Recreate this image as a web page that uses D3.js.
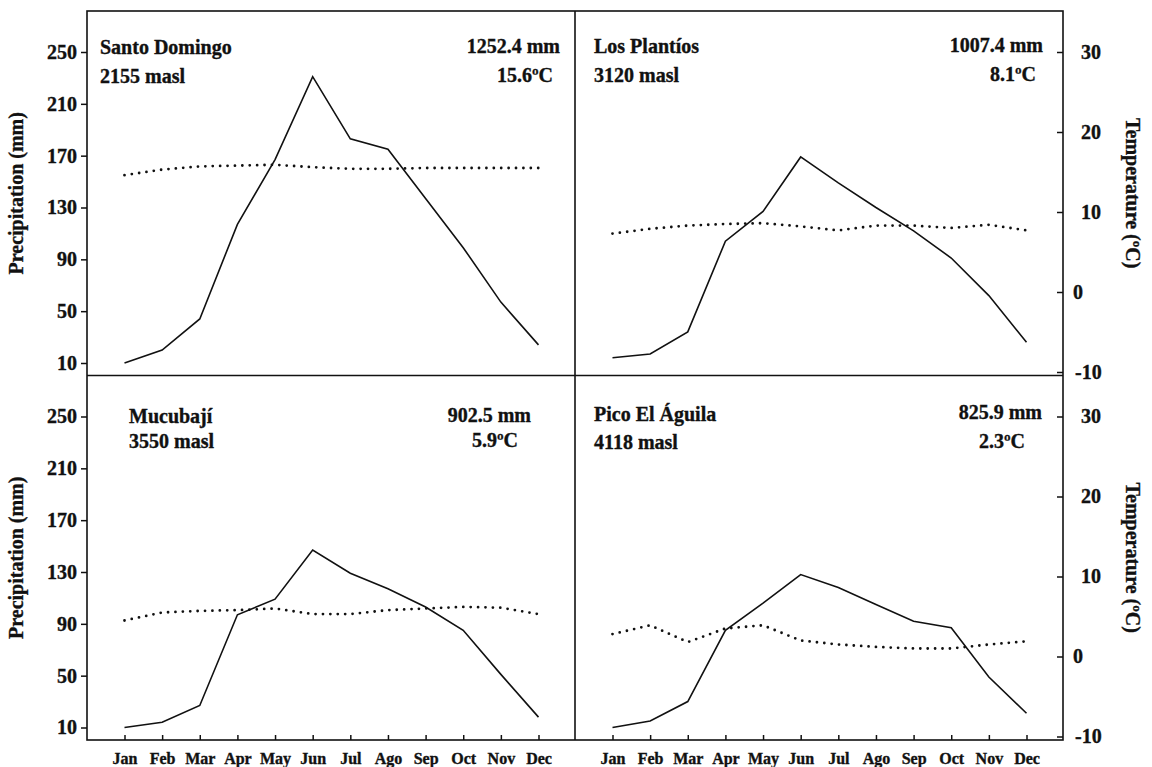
<!DOCTYPE html>
<html>
<head>
<meta charset="utf-8">
<script src="https://cdn.jsdelivr.net/npm/d3@7"></script>
<style>
  body { margin: 0; background: #fff; }
  svg { display: block; font-family: "Liberation Serif", "Times New Roman", serif; font-weight: bold; }
  svg text { stroke: #111; stroke-width: 0.35px; }
</style>
</head>
<body>
<div id="chart"></div>
<script>
const months = ["Jan", "Feb", "Mar", "Apr", "May", "Jun", "Jul", "Ago", "Sep", "Oct", "Nov", "Dec"];
const stations = ["Santo Domingo", "Los Plantíos", "Mucubají", "Pico El Águila"];
const elevations = ["2155 masl", "3120 masl", "3550 masl", "4118 masl"];
const totals = ["1252.4 mm", "1007.4 mm", "902.5 mm", "825.9 mm"];
const meanTemps = ["15.6ºC", "8.1ºC", "5.9ºC", "2.3ºC"];

// monthly precipitation (mm)
const precipSD = [10, 20, 44, 117, 167, 231, 183, 175, 137, 99, 57, 24];
const precipLP = [14, 17, 34, 104, 127, 169, 149, 130, 112, 91, 62, 26];
const precipMU = [10, 14, 27, 97, 109, 147, 129, 117, 103, 85, 51, 18];
const precipPA = [10, 15, 30, 85, 106, 128, 118, 105, 92, 87, 49, 21];

// monthly mean temperature (ºC)
const tempSD = [14.6, 15.3, 15.7, 15.8, 15.9, 15.6, 15.4, 15.4, 15.5, 15.5, 15.5, 15.5];
const tempLP = [7.3, 7.9, 8.3, 8.5, 8.6, 8.2, 7.7, 8.3, 8.3, 8.0, 8.4, 7.7];
const tempMU = [4.5, 5.5, 5.7, 5.8, 6.0, 5.3, 5.3, 5.8, 6.0, 6.2, 6.1, 5.3];
const tempPA = [2.8, 3.9, 1.8, 3.5, 3.9, 2.0, 1.5, 1.2, 1.0, 1.0, 1.5, 1.9];

const precipTicks = [10, 50, 90, 130, 170, 210, 250];
const tempTicks = [-10, 0, 10, 20, 30];

const precipAll = [precipSD, precipLP, precipMU, precipPA];
const tempAll = [tempSD, tempLP, tempMU, tempPA];

const width = 1152, height = 767;
const x0 = 87, x1 = 1063, y0 = 11, y1 = 740;
const colW = (x1 - x0) / 2, rowH = (y1 - y0) / 2;

// where the station texts sit in each panel
const labelPos = [
  { nx: 100, ny: 54, ey: 83, tx: 560, ty: 53, my: 82, mx: 553 },
  { nx: 594, ny: 53, ey: 82, tx: 1043, ty: 52, my: 81, mx: 1036 },
  { nx: 129, ny: 423, ey: 448, tx: 531, ty: 422, my: 447, mx: 518 },
  { nx: 594, ny: 421, ey: 449, tx: 1042, ty: 419, my: 448, mx: 1025 }
];

const svg = d3.select("#chart").append("svg")
    .attr("width", width)
    .attr("height", height);

svg.append("rect").attr("width", width).attr("height", height).attr("fill", "#fff");

function styleAxis(ax, size) {
    ax.attr("font-family", null).attr("font-size", null);
    ax.select(".domain").remove();
    ax.selectAll("line").attr("stroke", "#111").attr("stroke-width", 1.5);
    ax.selectAll("text").attr("font-size", size).attr("fill", "#111");
}

stations.forEach((name, i) => {
    const col = i % 2, row = Math.floor(i / 2);
    const left = x0 + col * colW;
    const top = y0 + row * rowH;

    const x = d3.scalePoint().domain(months).range([left + 37.5, left + 451.5]);
    const yP = d3.scaleLinear().domain([10, 250]).range([top + 352, top + 41]);
    const yT = d3.scaleLinear().domain([-10, 30]).range([top + 361, top + 41]);

    const g = svg.append("g");

    g.append("path")
        .datum(precipAll[i])
        .attr("fill", "none")
        .attr("stroke", "#111")
        .attr("stroke-width", 1.6)
        .attr("d", d3.line().x((d, j) => x(months[j])).y(d => yP(d)));

    g.append("path")
        .datum(tempAll[i])
        .attr("fill", "none")
        .attr("stroke", "#111")
        .attr("stroke-width", 2.8)
        .attr("stroke-linecap", "round")
        .attr("stroke-dasharray", "0 7.4")
        .attr("d", d3.line().x((d, j) => x(months[j])).y(d => yT(d)));

    if (col === 0) {
        const ax = g.append("g")
            .attr("transform", `translate(${x0},0)`)
            .call(d3.axisLeft(yP).tickValues(precipTicks).tickSize(6).tickPadding(4).tickFormat(d => String(d)));
        styleAxis(ax, 20);

        g.append("text")
            .attr("transform", `translate(23,${top + rowH / 2}) rotate(-90)`)
            .attr("text-anchor", "middle")
            .attr("font-size", 20)
            .attr("fill", "#111")
            .text("Precipitation (mm)");
    } else {
        const ax = g.append("g")
            .attr("transform", `translate(${x1},0)`)
            .call(d3.axisRight(yT).tickValues(tempTicks).tickSize(-6).tickPadding(18).tickFormat(d => String(d)));
        styleAxis(ax, 20);
        ax.selectAll("text").attr("dx", d => d < 0 ? -6 : d === 0 ? -8 : 0);

        g.append("text")
            .attr("transform", `translate(1126,${top + rowH / 2}) rotate(90)`)
            .attr("text-anchor", "middle")
            .attr("font-size", 20)
            .attr("fill", "#111")
            .text("Temperature (ºC)");
    }

    if (row === 1) {
        const ax = g.append("g")
            .attr("transform", `translate(0,${y1})`)
            .call(d3.axisBottom(x).tickSize(-5).tickPadding(13));
        styleAxis(ax, 16);
    }

    const p = labelPos[i];
    const txt = [
        [name, p.nx, p.ny, "start"],
        [elevations[i], p.nx, p.ey, "start"],
        [totals[i], p.tx, p.ty, "end"],
        [meanTemps[i], p.mx, p.my, "end"]
    ];
    g.selectAll("text.info")
        .data(txt)
        .join("text")
        .attr("class", "info")
        .attr("x", d => d[1])
        .attr("y", d => d[2])
        .attr("text-anchor", d => d[3])
        .attr("font-size", 20)
        .attr("fill", "#111")
        .text(d => d[0]);
});

// frame and dividers
svg.append("rect")
    .attr("x", x0).attr("y", y0)
    .attr("width", x1 - x0).attr("height", y1 - y0)
    .attr("fill", "none").attr("stroke", "#111").attr("stroke-width", 1.6);
svg.append("line")
    .attr("x1", x0 + colW).attr("x2", x0 + colW).attr("y1", y0).attr("y2", y1)
    .attr("stroke", "#111").attr("stroke-width", 1.6);
svg.append("line")
    .attr("x1", x0).attr("x2", x1).attr("y1", y0 + rowH).attr("y2", y0 + rowH)
    .attr("stroke", "#111").attr("stroke-width", 1.6);
</script>
</body>
</html>
